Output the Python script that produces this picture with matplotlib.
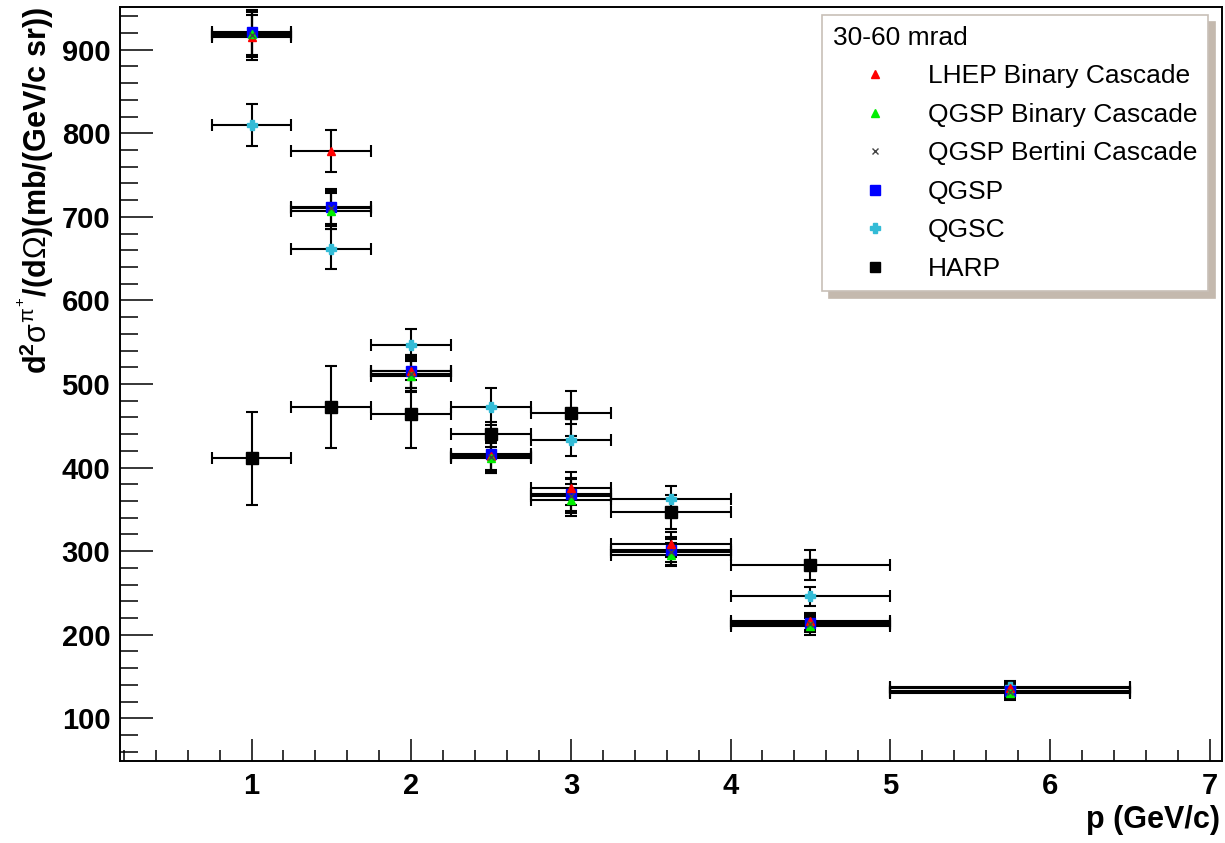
import matplotlib
matplotlib.use("Agg")
from matplotlib import pyplot as plt
from matplotlib.lines import Line2D
from matplotlib.ticker import MultipleLocator

# bins in p (GeV/c)
p_center = [1.0, 1.5, 2.0, 2.5, 3.0, 3.625, 4.5, 5.75]
p_half = [0.25, 0.25, 0.25, 0.25, 0.25, 0.375, 0.5, 0.75]

# model predictions, mb/(GeV/c sr)
lhep = [915, 779, 515, 414, 375, 308, 216, 136]
lhep_err = [27, 25, 20, 19, 20, 15, 10, 8]
qgsp_bic = [919, 707, 510, 411, 361, 296, 210, 130]
qgsp_bic_err = [27, 22, 20, 18, 19, 14, 10, 8]
qgsp_bert = [918, 710, 512, 413, 366, 299, 213, 131]
qgsp_bert_err = [27, 21, 20, 19, 20, 15, 10, 8]
qgsp = [921, 712, 515, 416, 368, 302, 214, 133]
qgsp_err = [27, 21, 20, 19, 20, 15, 10, 8]
qgsc = [810, 661, 547, 473, 433, 363, 246, 138]
qgsc_err = [25, 24, 19, 22, 19, 15, 11, 7]

# HARP data (no point in last bin)
harp_p = [1.0, 1.5, 2.0, 2.5, 3.0, 3.625, 4.5]
harp_half = [0.25, 0.25, 0.25, 0.25, 0.25, 0.375, 0.5]
harp = [411, 473, 464, 440, 465, 347, 284]
harp_err = [56, 49, 41, 15, 27, 20, 18]

plt.rcParams['font.family'] = ['Liberation Sans', 'DejaVu Sans']
plt.rcParams['mathtext.fontset'] = 'custom'
plt.rcParams['mathtext.rm'] = 'Liberation Sans'
plt.rcParams['mathtext.it'] = 'Liberation Sans'
plt.rcParams['mathtext.bf'] = 'Liberation Sans:bold'

fig = plt.figure(figsize=(12.25, 8.43), dpi=100)
ax = fig.add_axes([120/1225, 1 - 761/843, 1102/1225, 754/843])

cyan = '#33bbd6'
series = [
    (qgsc, qgsc_err, 'P', cyan, 7),
    (qgsp, qgsp_err, 's', '#0000ff', 6.5),
    (lhep, lhep_err, '^', '#ff0000', 6),
    (qgsp_bic, qgsp_bic_err, '^', '#00ee00', 6),
    (qgsp_bert, qgsp_bert_err, 'x', '#444444', 5),
]
for vals, errs, mk, col, ms in series:
    ax.errorbar(p_center, vals, xerr=p_half, yerr=errs, fmt=mk, color=col,
                ms=ms, mec=col, ecolor='k', elinewidth=1.5, capsize=4, capthick=1.5)
ax.errorbar(harp_p, harp, xerr=harp_half, yerr=harp_err, fmt='s', color='k',
            ms=8.5, ecolor='k', elinewidth=1.5, capsize=4, capthick=1.5)

ax.set_xlim(0.176, 7.078)
ax.set_ylim(49, 951)
ax.xaxis.set_major_locator(MultipleLocator(1))
ax.xaxis.set_minor_locator(MultipleLocator(0.2))
ax.yaxis.set_major_locator(MultipleLocator(100))
ax.yaxis.set_minor_locator(MultipleLocator(20))
ax.set_xticks([1, 2, 3, 4, 5, 6, 7])
ax.set_yticks([100, 200, 300, 400, 500, 600, 700, 800, 900])
ax.tick_params(axis='both', which='both', direction='in', top=False, right=False,
               width=1.1, labelsize=21)
ax.tick_params(axis='y', which='major', length=24, pad=7)
ax.tick_params(axis='y', which='minor', length=13)
ax.tick_params(axis='x', which='major', length=16, pad=8)
ax.tick_params(axis='x', which='minor', length=8)
for lab in ax.get_xticklabels() + ax.get_yticklabels():
    lab.set_fontweight('bold')
for s in ax.spines.values():
    s.set_linewidth(1.4)

ax.set_xlabel('p (GeV/c)', fontsize=22, fontweight='bold', loc='right')
ax.xaxis.set_label_coords(0.998, -0.058)
ax.set_ylabel(r'd$^{\mathbf{2}}\sigma^{\pi^{+}}$/(d$\Omega$)(mb/(GeV/c sr))',
              fontsize=22, fontweight='bold', loc='top')
ax.yaxis.set_label_coords(-0.058, 1.0)

handles = [
    Line2D([], [], ls='none', marker='^', color='#ff0000', ms=6),
    Line2D([], [], ls='none', marker='^', color='#00ee00', ms=6),
    Line2D([], [], ls='none', marker='x', color='#444444', ms=5),
    Line2D([], [], ls='none', marker='s', color='#0000ff', ms=6.5),
    Line2D([], [], ls='none', marker='P', color=cyan, ms=7),
    Line2D([], [], ls='none', marker='s', color='k', ms=6.5),
]
labels = ['LHEP Binary Cascade', 'QGSP Binary Cascade', 'QGSP Bertini Cascade',
          'QGSP', 'QGSC', 'HARP']
leg = ax.legend(handles, labels, title='30-60 mrad', loc='upper right',
                bbox_to_anchor=(0.987, 0.989), borderaxespad=0, fontsize=19,
                title_fontsize=19, alignment='left', handlelength=3.2,
                handletextpad=0.4, labelspacing=0.55, borderpad=0.4,
                fancybox=False, framealpha=1, edgecolor='#c8c0b8',
                shadow={'ox': 5, 'oy': -5, 'color': '#c4b9ae', 'alpha': 1})
leg.get_frame().set_linewidth(1.2)

plt.savefig('out.png', dpi=100)
